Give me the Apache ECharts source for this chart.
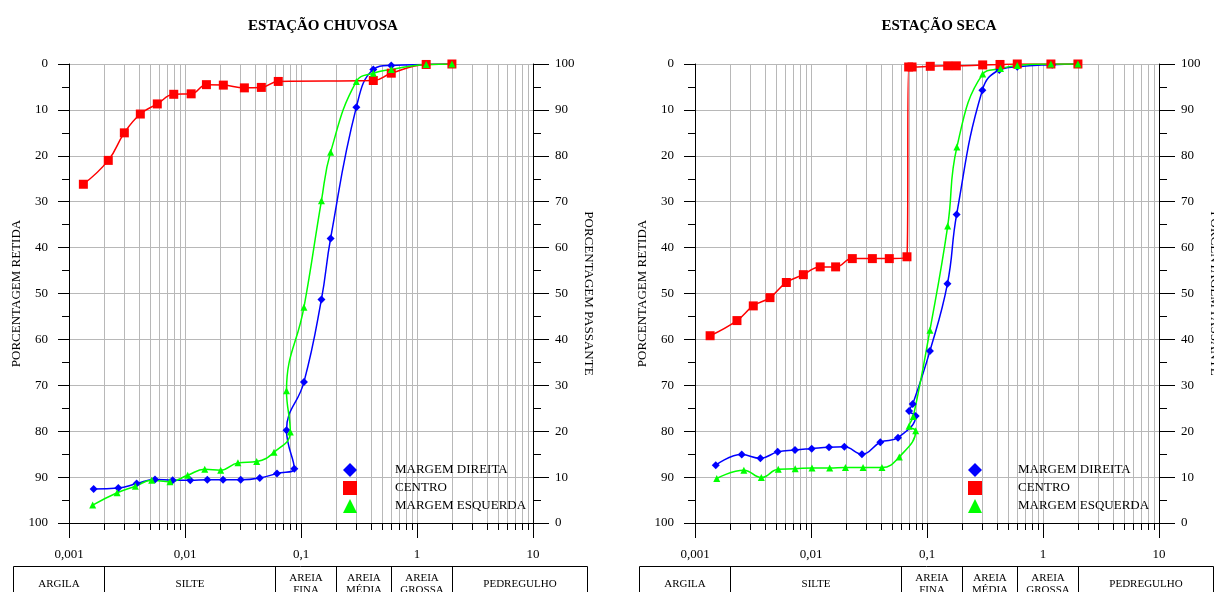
<!DOCTYPE html>
<html>
<head>
<meta charset="utf-8">
<script src="https://cdn.jsdelivr.net/npm/echarts@6/dist/echarts.min.js"></script>
<style>
  html, body { margin: 0; padding: 0; background: #fff; }
  #chart { width: 1214px; height: 592px; }
</style>
</head>
<body>
<div id="chart"></div>
<script>
const SERIF = "'Liberation Serif', 'Times New Roman', serif";

// Text and tick labels
const panelTitles = ['ESTAÇÃO CHUVOSA', 'ESTAÇÃO SECA'];
const xTickLabels = ['0,001', '0,01', '0,1', '1', '10'];
const legendNames = ['MARGEM DIREITA', 'CENTRO', 'MARGEM ESQUERDA'];
const retidaName = 'PORCENTAGEM RETIDA';
const passanteName = 'PORCENTAGEM PASSANTE';
const soilClasses = ['ARGILA', 'SILTE', 'AREIA\nFINA', 'AREIA\nMÉDIA', 'AREIA\nGROSSA', 'PEDREGULHO'];
const classLimits = [0.002, 0.06, 0.2, 0.6, 2];           // grain size limits (mm)
const minorMultipliers = [2, 3, 4, 5, 6, 7, 8, 9];
const decadeStarts = [0.001, 0.01, 0.1, 1];

// Estação chuvosa: diameter (mm) and percent passing
const chuvDireitaD = [0.00163, 0.00266, 0.00383, 0.00551, 0.00783, 0.0111, 0.01557, 0.0213, 0.0302, 0.0441, 0.0621, 0.0876, 0.075, 0.106, 0.15, 0.18, 0.3, 0.42, 0.6, 1.2, 2.0];
const chuvDireitaP = [7.4, 7.6, 8.6, 9.5, 9.3, 9.3, 9.4, 9.4, 9.4, 9.8, 10.8, 11.8, 20.2, 30.7, 48.7, 62.0, 90.6, 98.8, 99.7, 99.9, 100];

const chuvCentroD = [0.00133, 0.00218, 0.0030, 0.00412, 0.00577, 0.0080, 0.0113, 0.0153, 0.0214, 0.0325, 0.0455, 0.0637, 0.42, 0.6, 1.2, 2.0];
const chuvCentroP = [73.8, 79.0, 85.0, 89.1, 91.3, 93.4, 93.5, 95.5, 95.4, 94.8, 94.9, 96.2, 96.4, 98.0, 99.9, 100];

const chuvEsquerdaD = [0.0016, 0.0026, 0.00373, 0.00516, 0.00742, 0.01055, 0.0148, 0.0203, 0.0286, 0.0415, 0.0585, 0.0809, 0.075, 0.106, 0.15, 0.18, 0.3, 0.42, 0.6, 1.2, 2.0];
const chuvEsquerdaP = [3.9, 6.6, 8.0, 9.3, 9.0, 10.4, 11.7, 11.5, 13.1, 13.4, 15.4, 19.8, 28.8, 47.0, 70.2, 80.8, 96.2, 98.0, 98.8, 99.9, 100];

// Estação seca: diameter (mm) and percent passing
const secaDireitaD = [0.00151, 0.00253, 0.00366, 0.00516, 0.00728, 0.01014, 0.0143, 0.0194, 0.0275, 0.0396, 0.0562, 0.0799, 0.070, 0.0753, 0.106, 0.15, 0.18, 0.3, 0.42, 0.6, 1.2, 2.0];
const secaDireitaP = [12.6, 14.9, 14.1, 15.5, 15.9, 16.2, 16.5, 16.6, 15.0, 17.6, 18.6, 23.3, 24.4, 25.9, 37.5, 52.1, 67.2, 94.3, 98.7, 99.4, 99.85, 100];

const secaCentroD = [0.00135, 0.0023, 0.00318, 0.00443, 0.00613, 0.00859, 0.0120, 0.0163, 0.0227, 0.0338, 0.0473, 0.0672, 0.0695, 0.0743, 0.1067, 0.1508, 0.179, 0.302, 0.426, 0.6, 1.17, 2.0];
const secaCentroP = [40.8, 44.1, 47.3, 49.1, 52.4, 54.1, 55.8, 55.8, 57.6, 57.6, 57.6, 58.0, 99.35, 99.35, 99.5, 99.6, 99.6, 99.8, 99.9, 100, 100, 100];

const secaEsquerdaD = [0.00154, 0.00264, 0.00373, 0.00522, 0.00731, 0.0102, 0.0145, 0.0198, 0.0281, 0.0409, 0.0577, 0.0799, 0.070, 0.0762, 0.106, 0.1508, 0.181, 0.302, 0.43, 0.6, 1.17, 2.0];
const secaEsquerdaP = [9.7, 11.5, 9.9, 11.7, 11.8, 12.0, 12.0, 12.1, 12.1, 12.1, 14.4, 20.1, 21.1, 23.2, 42.0, 64.7, 81.9, 97.8, 99.0, 99.7, 100, 100];

const panels = [
  { direita: [chuvDireitaD, chuvDireitaP], centro: [chuvCentroD, chuvCentroP], esquerda: [chuvEsquerdaD, chuvEsquerdaP] },
  { direita: [secaDireitaD, secaDireitaP], centro: [secaCentroD, secaCentroP], esquerda: [secaEsquerdaD, secaEsquerdaP] }
];

const styles = {
  direita: { color: '#0000ff', symbol: 'diamond', size: 8 },
  centro: { color: '#ff0000', symbol: 'rect', size: 9 },
  esquerda: { color: '#00ff00', symbol: 'triangle', size: 7 }
};

const minorValues = [];
decadeStarts.forEach(d => minorMultipliers.forEach(m => minorValues.push(+(d * m).toPrecision(3))));

const chart = echarts.init(document.getElementById('chart'), null, { renderer: 'canvas' });

const grids = [
  { left: 69, top: 64, width: 464, height: 459, outerBoundsMode: 'none' },
  { left: 695, top: 64, width: 464, height: 459, outerBoundsMode: 'none' }
];

const xAxes = grids.map((_, g) => ({
  type: 'log', logBase: 10, min: 0.001, max: 10, gridIndex: g,
  axisLine: { show: true, onZero: false, lineStyle: { color: '#000', width: 1 } },
  axisTick: { show: true, inside: false, length: 15, lineStyle: { color: '#000' } },
  axisLabel: {
    margin: 25, fontFamily: SERIF, fontSize: 13, color: '#000',
    formatter: v => xTickLabels[Math.round(Math.log10(v)) + 3]
  },
  splitLine: { show: true, lineStyle: { color: '#b8b8b8', width: 1 } },
  minorTick: { show: false }, minorSplitLine: { show: false }
}));

const yAxes = [];
grids.forEach((_, g) => {
  yAxes.push({
    type: 'value', gridIndex: g, position: 'left', inverse: true, min: 0, max: 100, interval: 10,
    name: retidaName, nameLocation: 'middle', nameGap: 46,
    nameTextStyle: { fontFamily: SERIF, fontSize: 13, color: '#000' },
    axisLine: { show: true, onZero: false, lineStyle: { color: '#000', width: 1 } },
    axisTick: { show: true, inside: false, length: 11, lineStyle: { color: '#000' } },
    minorTick: { show: true, splitNumber: 2, length: 7, lineStyle: { color: '#000' } },
    axisLabel: { margin: 21, fontFamily: SERIF, fontSize: 13, color: '#000' },
    splitLine: { show: true, lineStyle: { color: '#b8b8b8', width: 1 } }
  });
  yAxes.push({
    type: 'value', gridIndex: g, position: 'right', min: 0, max: 100, interval: 10,
    name: passanteName, nameLocation: 'middle', nameGap: 49, nameRotate: -90,
    nameTextStyle: { fontFamily: SERIF, fontSize: 13, color: '#000' },
    axisLine: { show: true, onZero: false, lineStyle: { color: '#000', width: 1 } },
    axisTick: { show: true, inside: false, length: 16, lineStyle: { color: '#000' } },
    minorTick: { show: true, splitNumber: 2, length: 8, lineStyle: { color: '#000' } },
    axisLabel: { margin: 22, fontFamily: SERIF, fontSize: 13, color: '#000' },
    splitLine: { show: false }
  });
});

// Vertical log grid lines at 2..9 of each decade, with short ticks below the axis
function renderMinor(params, api) {
  const v = api.value(0);
  const top = api.coord([v, 100]);
  const bot = api.coord([v, 0]);
  const x = Math.round(top[0]) + 0.5;
  return {
    type: 'group',
    children: [
      { type: 'line', shape: { x1: x, y1: top[1], x2: x, y2: bot[1] }, style: { stroke: '#b8b8b8', lineWidth: 1 } },
      { type: 'line', shape: { x1: x, y1: bot[1], x2: x, y2: bot[1] + 7 }, style: { stroke: '#000', lineWidth: 1 } }
    ]
  };
}

const series = [];
panels.forEach((panel, g) => {
  series.push({
    type: 'custom', name: 'grade', xAxisIndex: g, yAxisIndex: 2 * g + 1, silent: true, z: 1,
    renderItem: renderMinor, data: minorValues.map(v => [v, 0]), clip: false
  });
  ['direita', 'centro', 'esquerda'].forEach((key, i) => {
    const st = styles[key];
    const [d, p] = panel[key];
    series.push({
      type: 'line', name: legendNames[i], xAxisIndex: g, yAxisIndex: 2 * g + 1,
      data: d.map((v, k) => [v, p[k]]),
      smooth: 0.45, symbol: st.symbol, symbolSize: st.size, showAllSymbol: true,
      itemStyle: { color: st.color }, lineStyle: { color: st.color, width: 1.5 },
      emphasis: { disabled: true }, z: 3, animation: false
    });
  });
});

const legends = [[343, 33], [968, 31]].map(([left, gap]) => ({
  left, top: 463, orient: 'vertical', padding: 0, itemWidth: 14, itemHeight: 14, itemGap: 4,
  selectedMode: false,
  data: [
    { name: legendNames[0], icon: 'diamond' },
    { name: legendNames[1], icon: 'rect' },
    { name: legendNames[2], icon: 'triangle' }
  ],
  textStyle: { fontFamily: SERIF, fontSize: 13, color: '#000', padding: [0, 0, 0, gap] }
}));

chart.setOption({
  animation: false,
  backgroundColor: '#fff',
  grid: grids,
  xAxis: xAxes,
  yAxis: yAxes,
  legend: legends,
  series
});

// Titles and the soil classification strip under each panel
const graphics = [];
const titleCenters = [323, 939];
panelTitles.forEach((t, g) => {
  graphics.push({
    type: 'text', x: titleCenters[g], y: 26,
    style: { text: t, fontFamily: SERIF, fontSize: 15, fontWeight: 'bold', fill: '#000', align: 'center', verticalAlign: 'middle' }
  });
});

grids.forEach((_, g) => {
  const toX = v => chart.convertToPixel({ xAxisIndex: g }, v);
  const xa = toX(0.001), xb = toX(10);
  const yb = chart.convertToPixel({ yAxisIndex: 2 * g + 1 }, 0);
  const top = Math.round(yb + 43) + 0.5;
  const bottom = top + 40;
  const cuts = [xa - 56, ...classLimits.map(toX), xb + 54].map(x => Math.round(x) + 0.5);
  const line = (x1, y1, x2, y2) => ({
    type: 'line', shape: { x1, y1, x2, y2 }, style: { stroke: '#000', lineWidth: 1 }, silent: true
  });
  graphics.push(line(cuts[0], top, cuts[cuts.length - 1], top));
  cuts.forEach(x => graphics.push(line(x, top, x, bottom)));
  soilClasses.forEach((name, i) => {
    graphics.push({
      type: 'text', x: (cuts[i] + cuts[i + 1]) / 2, y: top + 17.5, silent: true,
      style: { text: name, fontFamily: SERIF, fontSize: 11, lineHeight: 12, fill: '#000', align: 'center', verticalAlign: 'middle' }
    });
  });
});

chart.setOption({ graphic: graphics });
</script>
</body>
</html>
